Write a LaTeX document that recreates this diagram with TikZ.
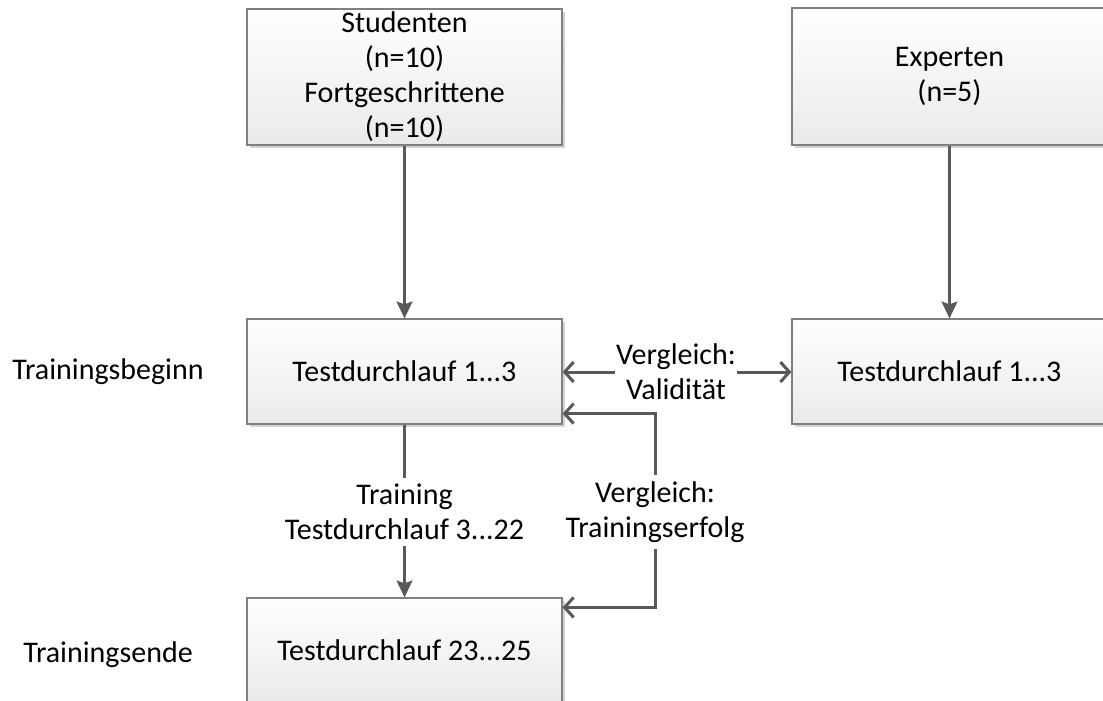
\documentclass[tikz,border=0pt]{standalone}
\usepackage{fontspec}
\setmainfont{Carlito}
\usetikzlibrary{arrows.meta,shadows,calc}
\definecolor{boxborder}{HTML}{7F7F7F}
\definecolor{boxbot}{HTML}{EAEAEA}
\definecolor{shadowgray}{HTML}{D4D4D4}
\definecolor{linegray}{HTML}{595959}
\tikzset{
  box/.style={draw=boxborder, line width=1.2pt, top color=white, bottom color=boxbot,
    minimum width=315pt, align=center, inner sep=2pt,
    drop shadow={shadow xshift=3pt, shadow yshift=-3pt, fill=shadowgray, opacity=1}},
  lbl/.style={align=center, inner sep=2pt},
  conn/.style={draw=linegray, line width=2.2pt},
  filledarrow/.style={conn, -{Stealth[length=17pt,width=16pt,inset=3pt]}},
  openarrow/.style={draw=linegray, line width=3pt, -{Straight Barb[length=9pt,width=20pt]}}
}
\begin{document}
\begin{tikzpicture}[x=1pt,y=-1pt,font=\fontsize{30pt}{35pt}\selectfont]
\useasboundingbox (0,0) rectangle (1103,701);
\clip (0,0) rectangle (1103,701);

\node[box, minimum height=136pt] (s) at (404.5,77) {Studenten\\(n=10)\\Fortgeschrittene\\(n=10)};
\node[box, minimum height=137pt] (e) at (949.5,76.5) {Experten\\(n=5)};
\node[box, minimum height=105pt] (t1) at (404.5,371.5) {Testdurchlauf 1...3};
\node[box, minimum height=105pt] (t2) at (949.5,371.5) {Testdurchlauf 1...3};
\node[box, minimum height=105pt] (t3) at (404.5,650.5) {Testdurchlauf 23...25};

\node[lbl] (lb) at (108,372) {Trainingsbeginn};
\node[lbl] (le) at (108,655) {Trainingsende};

\node[lbl, inner sep=1pt] (vv) at (676,372) {Vergleich:\\Validität};
\node[lbl, inner sep=6pt] (tr) at (404.5,512) {Training\\Testdurchlauf 3...22};
\node[lbl, inner sep=6pt] (vf) at (655,512) {Vergleich:\\Trainingserfolg};

\draw[filledarrow] (s) -- (t1);
\draw[filledarrow] (e) -- (t2);
\draw[openarrow] (vv.west) -- (vv.west -| t1.east);
\draw[openarrow] (vv.east) -- (vv.east -| t2.west);
\draw[conn] (t1) -- (tr);
\draw[filledarrow] (tr) -- (t3);
\draw[openarrow] (vf.north) |- ($(t1.south east)+(0,-11)$);
\draw[openarrow] (vf.south) |- ($(t3.north east)+(0,10)$);
\end{tikzpicture}
\end{document}
